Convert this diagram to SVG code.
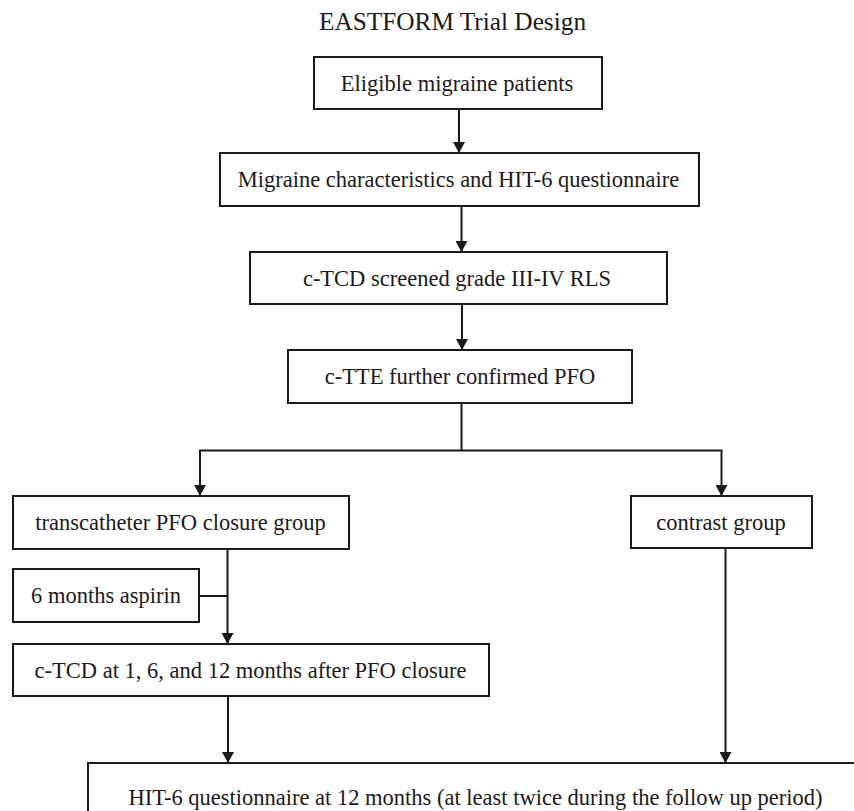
<svg xmlns="http://www.w3.org/2000/svg" width="854" height="811" viewBox="0 0 854 811">
  <style>
    .box { fill: #ffffff; stroke: #1a1a1a; stroke-width: 2; }
    .lbl { font-family: "Liberation Serif", "Times New Roman", serif; font-size: 22.5px; fill: #1a1a1a; text-anchor: middle; }
    .title { font-family: "Liberation Serif", "Times New Roman", serif; font-size: 25.3px; fill: #1a1a1a; text-anchor: middle; }
    .conn { fill: none; stroke: #1a1a1a; stroke-width: 2; }
  </style>
  <defs>
    <marker id="arrow" markerUnits="userSpaceOnUse" markerWidth="12" markerHeight="12" refX="11" refY="6" orient="auto">
      <path d="M0,0 L11,6 L0,12 z" fill="#1a1a1a"/>
    </marker>
  </defs>
  <rect width="854" height="811" fill="#ffffff"/>

  <text class="title" x="452.5" y="30">EASTFORM Trial Design</text>

  <g id="connectors">
    <line class="conn" x1="459" y1="109" x2="459" y2="153" marker-end="url(#arrow)"/>
    <line class="conn" x1="461.5" y1="206" x2="461.5" y2="252" marker-end="url(#arrow)"/>
    <line class="conn" x1="462" y1="304" x2="462" y2="350" marker-end="url(#arrow)"/>
    <line class="conn" x1="461.5" y1="403" x2="461.5" y2="450.5"/>
    <line class="conn" x1="199" y1="450.5" x2="722.5" y2="450.5"/>
    <line class="conn" x1="200" y1="450.5" x2="200" y2="496" marker-end="url(#arrow)"/>
    <line class="conn" x1="721.5" y1="450.5" x2="721.5" y2="496" marker-end="url(#arrow)"/>
    <line class="conn" x1="227.5" y1="549" x2="227.5" y2="644" marker-end="url(#arrow)"/>
    <line class="conn" x1="199" y1="596" x2="227.5" y2="596"/>
    <line class="conn" x1="228" y1="696" x2="228" y2="763" marker-end="url(#arrow)"/>
    <line class="conn" x1="725.5" y1="548" x2="725.5" y2="763" marker-end="url(#arrow)"/>
  </g>

  <g id="node-eligible">
    <rect class="box" x="314" y="57" width="288" height="52"/>
    <text class="lbl" x="457" y="91">Eligible migraine patients</text>
  </g>
  <g id="node-characteristics">
    <rect class="box" x="220" y="153" width="479" height="53"/>
    <text class="lbl" x="458.5" y="187">Migraine characteristics and HIT-6 questionnaire</text>
  </g>
  <g id="node-ctcd-screen">
    <rect class="box" x="250" y="252" width="417" height="52"/>
    <text class="lbl" x="457" y="286">c-TCD screened grade III-IV RLS</text>
  </g>
  <g id="node-ctte">
    <rect class="box" x="288" y="350" width="344" height="53"/>
    <text class="lbl" x="460" y="384">c-TTE further confirmed PFO</text>
  </g>
  <g id="node-closure">
    <rect class="box" x="13" y="496" width="336" height="53"/>
    <text class="lbl" x="180.5" y="530">transcatheter PFO closure group</text>
  </g>
  <g id="node-contrast">
    <rect class="box" x="631" y="496" width="181" height="52"/>
    <text class="lbl" x="721" y="530">contrast group</text>
  </g>
  <g id="node-aspirin">
    <rect class="box" x="13" y="569" width="186" height="53"/>
    <text class="lbl" x="106" y="603">6 months aspirin</text>
  </g>
  <g id="node-ctcd-followup">
    <rect class="box" x="13" y="644" width="476" height="52"/>
    <text class="lbl" x="250.5" y="678">c-TCD at 1, 6, and 12 months after PFO closure</text>
  </g>
  <g id="node-hit6">
    <rect class="box" x="88" y="763" width="780" height="90"/>
    <text class="lbl" x="475.5" y="805">HIT-6 questionnaire at 12 months (at least twice during the follow up period)</text>
  </g>
</svg>
